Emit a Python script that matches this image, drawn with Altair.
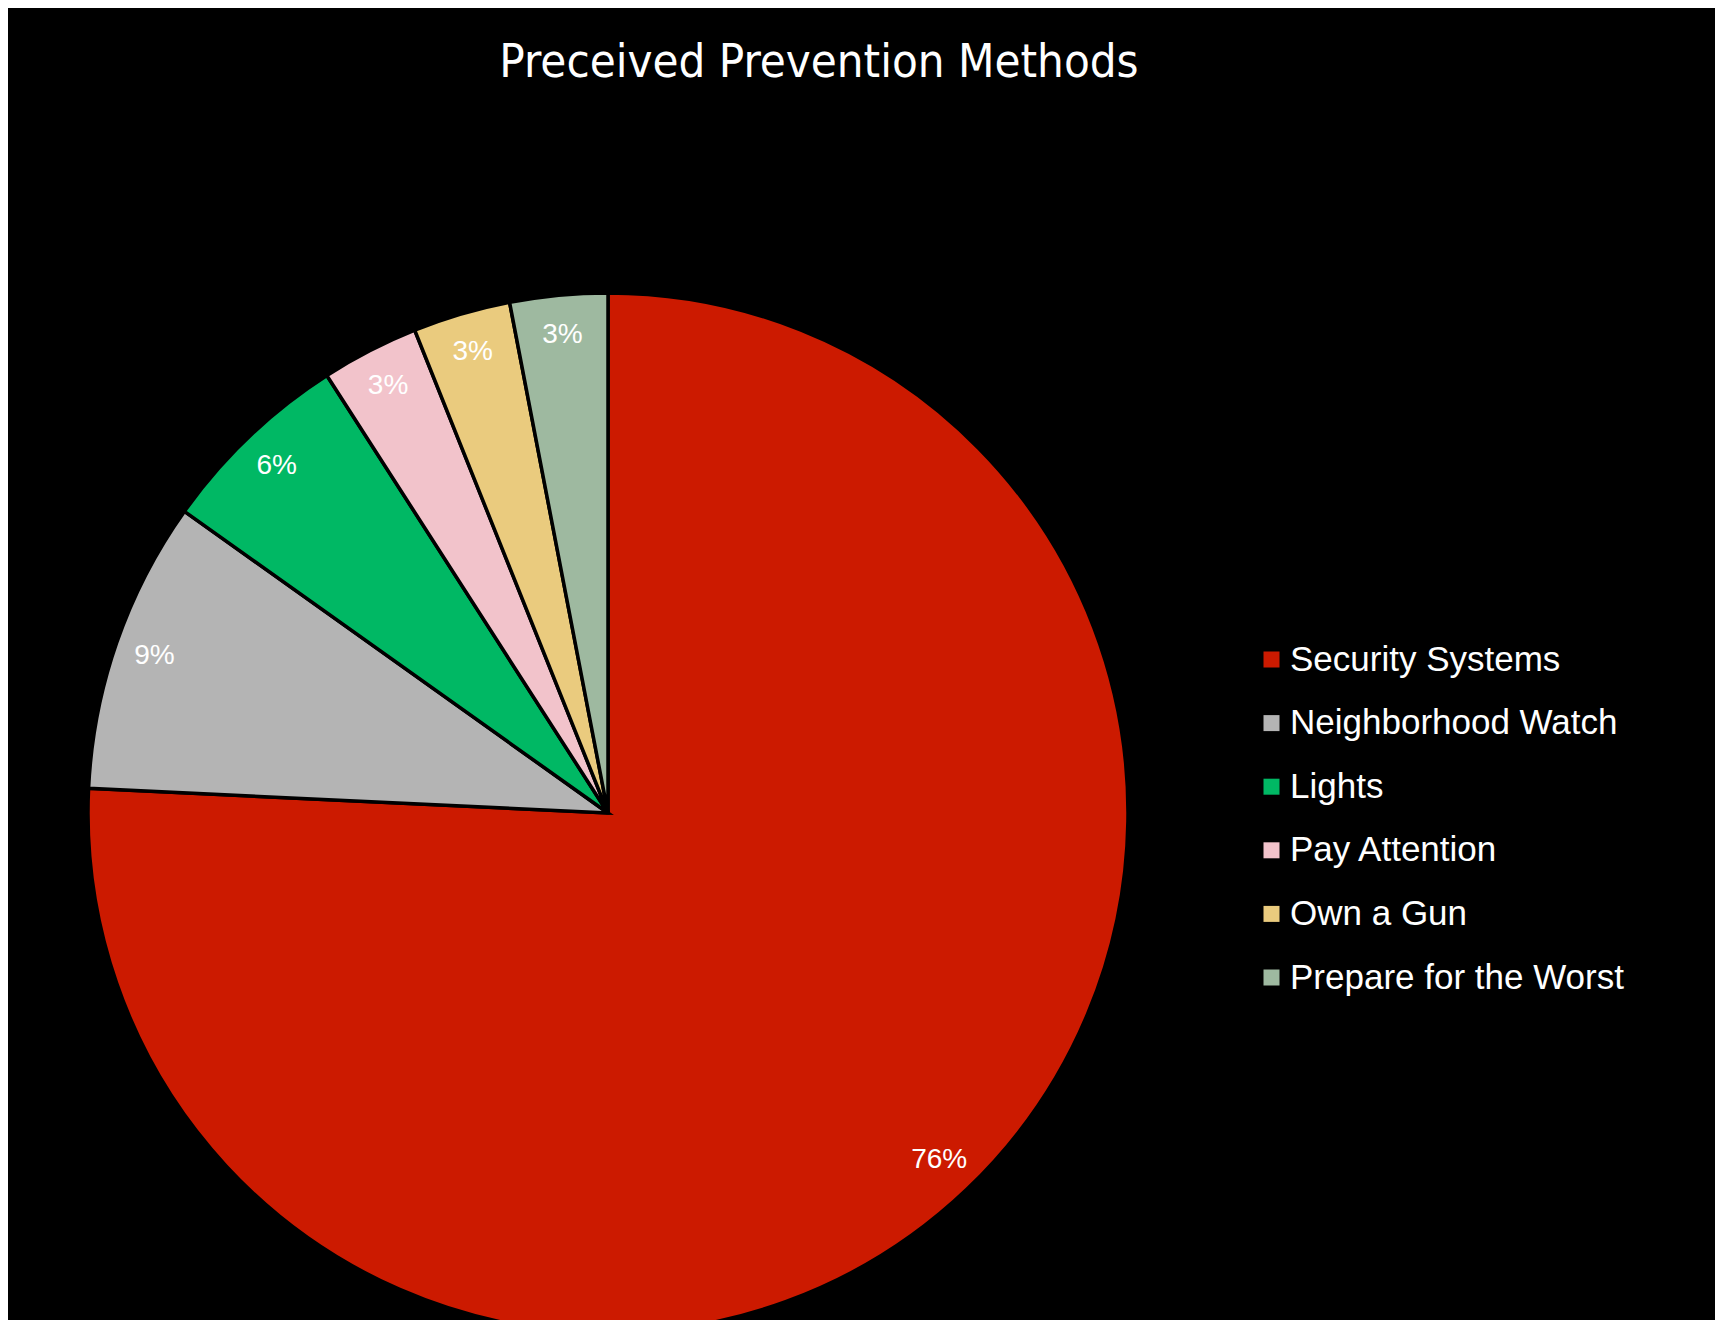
import altair as alt
import pandas as pd

categories = ["Security Systems", "Neighborhood Watch", "Lights",
              "Pay Attention", "Own a Gun", "Prepare for the Worst"]
counts = [25, 3, 2, 1, 1, 1]
pct_labels = ["76%", "9%", "6%", "3%", "3%", "3%"]
colors = ["#CC1A00", "#B4B4B4", "#00B864", "#F2C3CB", "#EACB7E", "#9EB9A0"]
title_text = ["Preceived Prevention Methods"]

df = pd.DataFrame({
    "category": categories,
    "count": counts,
    "label": pct_labels,
    "order": list(range(len(categories))),
})

CX, CY, R = 600, 805, 520

base = alt.Chart(df).encode(
    theta=alt.Theta("count:Q", stack=True),
    order=alt.Order("order:Q"),
)

pie = base.mark_arc(stroke="black", strokeWidth=3.5).encode(
    x=alt.value(CX),
    y=alt.value(CY),
    radius=alt.value(R),
    color=alt.Color(
        "category:N",
        sort=categories,
        scale=alt.Scale(domain=categories, range=colors),
        legend=alt.Legend(
            title=None, orient="none", legendX=1246, legendY=634,
            symbolType="square", symbolSize=256, symbolStrokeWidth=0,
            labelFontSize=35, labelColor="white", labelFont="Liberation Sans",
            rowPadding=27.6, labelOffset=1, labelLimit=600,
        ),
    ),
)

labels = base.mark_text(fontSize=28, color="white", font="Liberation Sans").encode(
    x=alt.value(CX),
    y=alt.value(CY),
    radius=alt.value(480),
    text="label:N",
)

title = alt.Chart(pd.DataFrame({"t": title_text})).mark_text(
    fontSize=47, font="DejaVu Sans Condensed, Liberation Sans", color="white",
    align="center", baseline="alphabetic",
).encode(text="t:N", x=alt.value(811), y=alt.value(69))

chart = alt.layer(pie, labels, title).properties(
    width=1707, height=1312, background="black", padding=0, autosize="none",
).configure_view(stroke=None)

chart.save("out.html", embed_options={"renderer": "svg", "actions": False})
